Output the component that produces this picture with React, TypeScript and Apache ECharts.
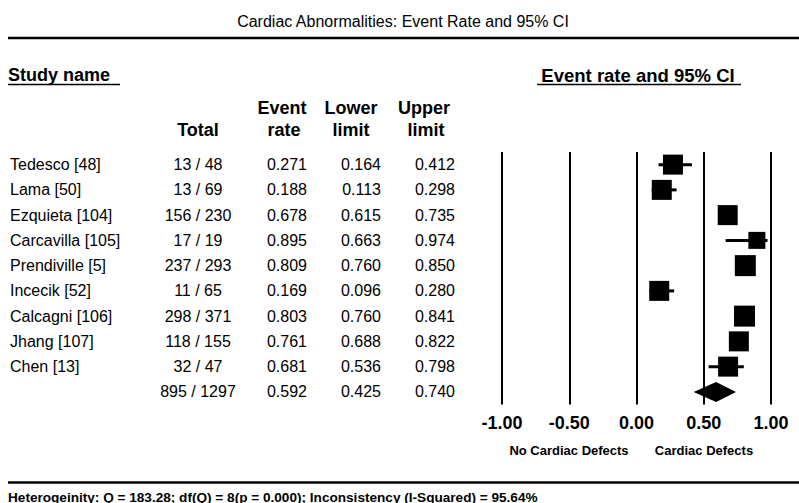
import React, { useEffect, useRef } from 'react';
import * as echarts from 'echarts';

const studyNames = ['Tedesco [48]', 'Lama [50]', 'Ezquieta [104]', 'Carcavilla [105]', 'Prendiville [5]', 'Incecik [52]', 'Calcagni [106]', 'Jhang [107]', 'Chen [13]'];
const events = [13, 13, 156, 17, 237, 11, 298, 118, 32];
const totals = [48, 69, 230, 19, 293, 65, 371, 155, 47];
const eventRates = [0.271, 0.188, 0.678, 0.895, 0.809, 0.169, 0.803, 0.761, 0.681];
const lowerLimits = [0.164, 0.113, 0.615, 0.663, 0.760, 0.096, 0.760, 0.688, 0.536];
const upperLimits = [0.412, 0.298, 0.735, 0.974, 0.850, 0.280, 0.841, 0.822, 0.798];
const squareSizes = [20, 20, 20, 17, 21, 20, 21, 20, 20];
const summaryEvents = 895;
const summaryTotal = 1297;
const summaryRate = 0.592;
const summaryLower = 0.425;
const summaryUpper = 0.740;
const xTicks = [-1, -0.5, 0, 0.5, 1];

const FONT = '"Liberation Sans", Arial, Helvetica, sans-serif';

export default function App() {
  const ref = useRef<HTMLDivElement>(null);
  useEffect(() => {
    if (!ref.current) return;
    const chart = echarts.init(ref.current, null, { renderer: 'svg' });
    const rowLabels = [...studyNames, 'Summary'];
    const tableRows = rowLabels.map((name, i) => {
      const isSum = i === studyNames.length;
      return {
        name: isSum ? '' : name,
        total: isSum ? `${summaryEvents} / ${summaryTotal}` : `${events[i]} / ${totals[i]}`,
        rate: (isSum ? summaryRate : eventRates[i]).toFixed(3),
        lower: (isSum ? summaryLower : lowerLimits[i]).toFixed(3),
        upper: (isSum ? summaryUpper : upperLimits[i]).toFixed(3),
      };
    });
    const txt = (text: string, x: number, y: number, align: string, size = 16, weight = 'normal') => ({
      type: 'text',
      x,
      y,
      style: {
        text,
        fill: '#000',
        fontSize: size,
        fontWeight: weight,
        fontFamily: FONT,
        align,
        verticalAlign: 'middle',
      },
    });
    const hline = (x1: number, x2: number, y: number, w: number) => ({
      type: 'line',
      shape: { x1, y1: y, x2, y2: y },
      style: { stroke: '#000', lineWidth: w },
    });

    const option: any = {
      animation: false,
      backgroundColor: '#fff',
      grid: { left: 502, top: 152, width: 269, height: 252.5 },
      xAxis: {
        type: 'value',
        min: xTicks[0],
        max: xTicks[xTicks.length - 1],
        interval: 0.5,
        axisLine: { show: false },
        axisTick: { show: false },
        splitLine: { show: true, lineStyle: { color: '#000', width: 2 } },
        axisLabel: {
          formatter: (v: number) => v.toFixed(2),
          color: '#000',
          fontWeight: 'bold',
          fontSize: 18,
          fontFamily: FONT,
          margin: 9,
        },
      },
      yAxis: {
        type: 'category',
        data: rowLabels,
        inverse: true,
        show: false,
      },
      series: [
        {
          type: 'custom',
          name: 'studies',
          silent: true,
          encode: { x: [0, 2, 3], y: 1 },
          data: studyNames.map((_, i) => [eventRates[i], i, lowerLimits[i], upperLimits[i], squareSizes[i]]),
          renderItem: (params: any, api: any) => {
            const idx = api.value(1);
            const c = api.coord([api.value(0), idx]);
            const l = api.coord([api.value(2), idx]);
            const u = api.coord([api.value(3), idx]);
            const s = api.value(4);
            return {
              type: 'group',
              children: [
                { type: 'line', shape: { x1: l[0], y1: c[1], x2: u[0], y2: c[1] }, style: { stroke: '#000', lineWidth: 3 } },
                { type: 'rect', shape: { x: c[0] - s / 2, y: c[1] - s / 2, width: s, height: s }, style: { fill: '#000' } },
              ],
            };
          },
        },
        {
          type: 'custom',
          name: 'summary',
          silent: true,
          encode: { x: [0, 2, 3], y: 1 },
          data: [[summaryRate, studyNames.length, summaryLower, summaryUpper]],
          renderItem: (params: any, api: any) => {
            const idx = api.value(1);
            const c = api.coord([api.value(0), idx]);
            const l = api.coord([api.value(2), idx]);
            const u = api.coord([api.value(3), idx]);
            const h = 10;
            return {
              type: 'polygon',
              shape: { points: [[l[0], c[1]], [c[0], c[1] - h], [u[0], c[1]], [c[0], c[1] + h]] },
              style: { fill: '#000' },
            };
          },
        },
        {
          type: 'custom',
          name: 'table',
          silent: true,
          encode: { x: 0, y: 1 },
          data: tableRows.map((_, i) => [0, i]),
          renderItem: (params: any, api: any) => {
            const r = tableRows[params.dataIndex];
            const y = api.coord([0, api.value(1)])[1];
            return {
              type: 'group',
              children: [
                txt(r.name, 10, y, 'left'),
                txt(r.total, 198, y, 'center'),
                txt(r.rate, 307, y, 'right'),
                txt(r.lower, 381, y, 'right'),
                txt(r.upper, 455, y, 'right'),
              ],
            };
          },
        },
      ],
      graphic: [
        txt('Cardiac Abnormalities: Event Rate and 95% CI', 403, 21, 'center', 16),
        hline(8, 799, 38, 2.5),
        txt('Study name', 8, 75, 'left', 18, 'bold'),
        hline(8, 120, 84.5, 1.5),
        txt('Event rate and 95% CI', 638, 75, 'center', 18.5, 'bold'),
        hline(537, 741, 84.5, 1.5),
        txt('Total', 198, 130, 'center', 18, 'bold'),
        txt('Event', 282, 108, 'center', 18, 'bold'),
        txt('rate', 284, 130, 'center', 18, 'bold'),
        txt('Lower', 351, 108, 'center', 18, 'bold'),
        txt('limit', 351, 130, 'center', 18, 'bold'),
        txt('Upper', 424, 108, 'center', 18, 'bold'),
        txt('limit', 426, 130, 'center', 18, 'bold'),
        txt('No Cardiac Defects', 569, 450, 'center', 13, 'bold'),
        txt('Cardiac Defects', 704, 450, 'center', 13, 'bold'),
        hline(8, 799, 482.5, 2.5),
        txt('Heterogeinity: Q = 183.28; df(Q) = 8(p = 0.000); Inconsistency (I-Squared) = 95.64%', 8, 497, 'left', 13.6, 'bold'),
      ],
    };
    chart.setOption(option);
    return () => chart.dispose();
  }, []);
  return <div ref={ref} style={{ position: 'fixed', left: 0, top: 0, width: 799, height: 503, background: '#fff' }} />;
}
